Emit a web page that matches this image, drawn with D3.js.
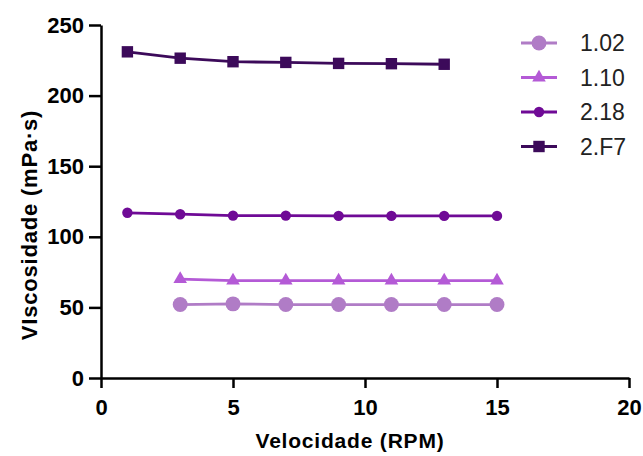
<!DOCTYPE html>
<html>
<head>
<meta charset="utf-8">
<script src="https://cdn.jsdelivr.net/npm/d3@7"></script>
<style>
  body { margin: 0; background: #fff; }
  text { font-family: "Liberation Sans", Arial, sans-serif; }
</style>
</head>
<body>
<div id="chart"></div>
<script>
// data
var seriesNames = ["1.02", "1.10", "2.18", "2.F7"];
var x102 = [3, 5, 7, 9, 11, 13, 15];
var y102 = [52, 52.5, 52, 52, 52, 52, 52];
var x110 = [3, 5, 7, 9, 11, 13, 15];
var y110 = [70, 69, 69, 69, 69, 69, 69];
var x218 = [1, 3, 5, 7, 9, 11, 13, 15];
var y218 = [117, 116, 115, 115, 114.8, 114.8, 114.8, 114.8];
var x2F7 = [1, 3, 5, 7, 9, 11, 13];
var y2F7 = [231, 226.5, 224, 223.5, 222.8, 222.6, 222.2];
var xTicks = [0, 5, 10, 15, 20];
var yTicks = [0, 50, 100, 150, 200, 250];

var colors = ["#b07cc6", "#b45ad6", "#6f0a96", "#3c0a5a"];
var symbols = [d3.symbolCircle, d3.symbolTriangle, d3.symbolCircle, d3.symbolSquare];
var symSizes = [175, 80, 85, 130];

var series = [
  { name: seriesNames[0], xs: x102, ys: y102 },
  { name: seriesNames[1], xs: x110, ys: y110 },
  { name: seriesNames[2], xs: x218, ys: y218 },
  { name: seriesNames[3], xs: x2F7, ys: y2F7 }
];

var svgWidth = 643, svgHeight = 456;
var margin = { top: 25, right: 14, bottom: 78, left: 101 };
var width = svgWidth - margin.left - margin.right;
var height = svgHeight - margin.top - margin.bottom;

var svg = d3.select("#chart").append("svg")
  .attr("width", svgWidth)
  .attr("height", svgHeight);

var chartGroup = svg.append("g")
  .attr("transform", `translate(${margin.left}, ${margin.top})`);

var x = d3.scaleLinear().domain([0, 20]).range([0, 528]);
var y = d3.scaleLinear().domain([0, 250]).range([height, 0]);

// axes
var xAxis = chartGroup.append("g")
  .attr("transform", `translate(0, ${height})`)
  .call(d3.axisBottom(x).tickValues(xTicks).tickSize(10).tickPadding(11).tickSizeOuter(0));
var yAxis = chartGroup.append("g")
  .call(d3.axisLeft(y).tickValues(yTicks).tickSize(12).tickPadding(5).tickSizeOuter(0));

[xAxis, yAxis].forEach(function (a) {
  a.select(".domain").attr("stroke", "#000").attr("stroke-width", 2.5);
  a.selectAll(".tick line").attr("stroke", "#000").attr("stroke-width", 2.5);
  a.selectAll(".tick text")
    .attr("fill", "#000")
    .style("font-size", "22px")
    .style("font-weight", "bold");
});

// lines + markers
var line = d3.line()
  .x(function (d) { return x(d[0]); })
  .y(function (d) { return y(d[1]); });

series.forEach(function (s, i) {
  var pts = s.xs.map(function (v, j) { return [v, s.ys[j]]; });
  var g = chartGroup.append("g");
  g.append("path")
    .datum(pts)
    .attr("d", line)
    .attr("fill", "none")
    .attr("stroke", colors[i])
    .attr("stroke-width", 2.8);
  g.selectAll("path.pt")
    .data(pts)
    .enter()
    .append("path")
    .attr("class", "pt")
    .attr("d", d3.symbol().type(symbols[i]).size(symSizes[i]))
    .attr("transform", function (d) { return `translate(${x(d[0])}, ${y(d[1])})`; })
    .attr("fill", colors[i]);
});

// legend
var legend = svg.append("g").attr("transform", "translate(521, 43)");
series.forEach(function (s, i) {
  var row = legend.append("g").attr("transform", `translate(0, ${i * 34.5})`);
  row.append("line")
    .attr("x1", 0).attr("x2", 36)
    .attr("stroke", colors[i])
    .attr("stroke-width", 2.8);
  row.append("path")
    .attr("d", d3.symbol().type(symbols[i]).size(symSizes[i]))
    .attr("transform", "translate(18, 0)")
    .attr("fill", colors[i]);
  row.append("text")
    .attr("x", 59)
    .attr("dy", "0.36em")
    .style("font-size", "23px")
    .attr("fill", "#222")
    .text(s.name);
});

// axis titles
svg.append("text")
  .attr("x", 350)
  .attr("y", 448)
  .attr("text-anchor", "middle")
  .style("font-size", "21px")
  .style("font-weight", "bold")
  .style("letter-spacing", "0.8px")
  .text("Velocidade (RPM)");

svg.append("text")
  .attr("transform", "rotate(-90)")
  .attr("x", -225)
  .attr("y", 37)
  .attr("text-anchor", "middle")
  .style("font-size", "22px")
  .style("font-weight", "bold")
  .style("letter-spacing", "0.8px")
  .text("VIscosidade (mPa·s)");
</script>
</body>
</html>
